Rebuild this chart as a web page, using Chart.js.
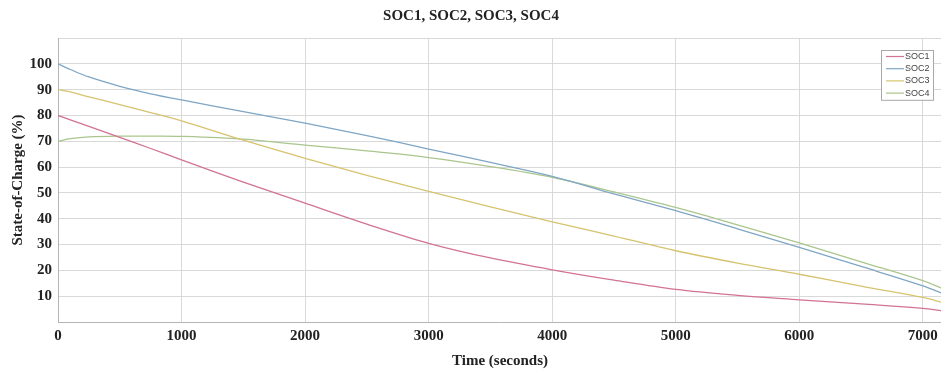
<!DOCTYPE html>
<html>
<head>
<meta charset="utf-8">
<script src="https://cdn.jsdelivr.net/npm/chart.js@4.4.1/dist/chart.umd.min.js"></script>
<style>
	html, body { margin: 0; padding: 0; background: #fff; overflow: hidden; }
	#wrap { position: relative; width: 1000px; height: 378px; }
</style>
</head>
<body>
<div id="wrap"><canvas id="socChart"></canvas></div>
<script>
// time axis (s) and state-of-charge (%) per cell
var timeSec = [0, 100, 250, 500, 750, 1000, 1500, 2000, 2500, 3000, 3500, 4000, 4500, 5000, 5500, 6000, 6500, 7000, 7155];
var soc1 = [80, 78.3, 75.8, 71.5, 67.2, 62.8, 54.2, 46.0, 37.9, 30.5, 24.8, 20.2, 16.2, 12.6, 10.3, 8.6, 7.0, 5.3, 4.3];
var soc2 = [100, 97.8, 94.9, 91.3, 88.4, 86.0, 81.5, 77.0, 72.2, 67.0, 61.8, 56.4, 49.6, 43.1, 36.1, 28.9, 21.5, 14.0, 11.2];
var soc3 = [90, 89.1, 87.2, 84.2, 81.1, 77.9, 70.4, 63.4, 56.8, 50.6, 44.6, 38.8, 33.3, 27.6, 22.8, 18.5, 13.9, 9.5, 7.6];
var soc4 = [70, 71.0, 71.7, 72.0, 72.0, 71.9, 70.8, 68.5, 66.3, 63.7, 60.2, 56.0, 50.4, 44.4, 37.6, 30.6, 23.3, 16.0, 13.0];
var xTicks = [0, 1000, 2000, 3000, 4000, 5000, 6000, 7000];
var yTicks = [10, 20, 30, 40, 50, 60, 70, 80, 90, 100];

function pts(vals) {
	return timeSec.map(function(t, i) { return { x: t, y: vals[i] }; });
}

var serif = { family: '"Liberation Serif", "DejaVu Serif", serif', size: 15, weight: 'bold' };

// small boxed legend in the top-right corner of the plot
var boxLegend = {
	id: 'boxLegend',
	afterDatasetsDraw: function(chart) {
		var ctx = chart.ctx, area = chart.chartArea;
		var sets = chart.data.datasets;
		var w = 52, rowH = 12.2, h = sets.length * rowH + 1;
		var x = area.right - 9 - w, y = area.top + 12;
		ctx.save();
		ctx.fillStyle = '#fff';
		ctx.fillRect(x, y, w, h);
		ctx.strokeStyle = '#a8a8a8';
		ctx.lineWidth = 1;
		ctx.strokeRect(x + 0.5, y + 0.5, w, h);
		ctx.font = '9px "Liberation Sans", Arial, sans-serif';
		ctx.textBaseline = 'middle';
		ctx.fillStyle = '#444';
		sets.forEach(function(ds, i) {
			var ry = y + 6.5 + i * rowH;
			ctx.strokeStyle = ds.borderColor;
			ctx.lineWidth = 1.2;
			ctx.beginPath();
			ctx.moveTo(x + 5, ry);
			ctx.lineTo(x + 23, ry);
			ctx.stroke();
			ctx.fillText(ds.label, x + 24, ry);
		});
		ctx.restore();
	}
};

var ctx = document.getElementById('socChart').getContext('2d');
new Chart(ctx, {
	type: 'line',
	data: {
		datasets: [
			{ label: 'SOC1', data: pts(soc1), borderColor: '#d27391' },
			{ label: 'SOC2', data: pts(soc2), borderColor: '#7fa6c4' },
			{ label: 'SOC3', data: pts(soc3), borderColor: '#d6c36f' },
			{ label: 'SOC4', data: pts(soc4), borderColor: '#aac58d' }
		]
	},
	options: {
		responsive: true,
		maintainAspectRatio: false,
		animation: false,
		layout: { padding: { left: 0, right: 58, top: 0, bottom: 0 } },
		elements: {
			point: { radius: 0 },
			line: { borderWidth: 1.3, tension: 0.35, fill: false }
		},
		plugins: {
			legend: { display: false },
			tooltip: { enabled: false },
			title: {
				display: true,
				text: 'SOC1, SOC2, SOC3, SOC4',
				color: '#222',
				font: serif,
				padding: { top: 7, bottom: 13 }
			}
		},
		scales: {
			x: {
				type: 'linear',
				min: 0,
				max: 7155,
				afterBuildTicks: function(scale) {
					scale.ticks = xTicks.map(function(v) { return { value: v }; });
				},
				afterFit: function(scale) { scale.height = 56; },
				ticks: {
					color: '#222',
					font: serif,
					padding: 5,
					maxRotation: 0,
					callback: function(v) { return String(v); }
				},
				grid: { color: '#d9d9d9', lineWidth: 1, drawTicks: false },
				border: { color: '#b5b5b5' },
				title: {
					display: true,
					text: 'Time (seconds)',
					color: '#222',
					font: serif,
					padding: { top: 0, bottom: 8 }
				}
			},
			y: {
				min: 0,
				max: 110,
				afterBuildTicks: function(scale) {
					scale.ticks = [0].concat(yTicks, [110]).map(function(v) { return { value: v }; });
				},
				afterFit: function(scale) { scale.width = 58; },
				ticks: {
					color: '#222',
					font: serif,
					padding: 6,
					callback: function(v) { return yTicks.indexOf(v) >= 0 ? String(v) : ''; }
				},
				grid: { color: '#d9d9d9', lineWidth: 1, drawTicks: false },
				border: { color: '#b5b5b5' },
				title: {
					display: true,
					text: 'State-of-Charge (%)',
					color: '#222',
					font: serif,
					padding: { top: 9, bottom: 0 }
				}
			}
		}
	},
	plugins: [boxLegend]
});
</script>
</body>
</html>
